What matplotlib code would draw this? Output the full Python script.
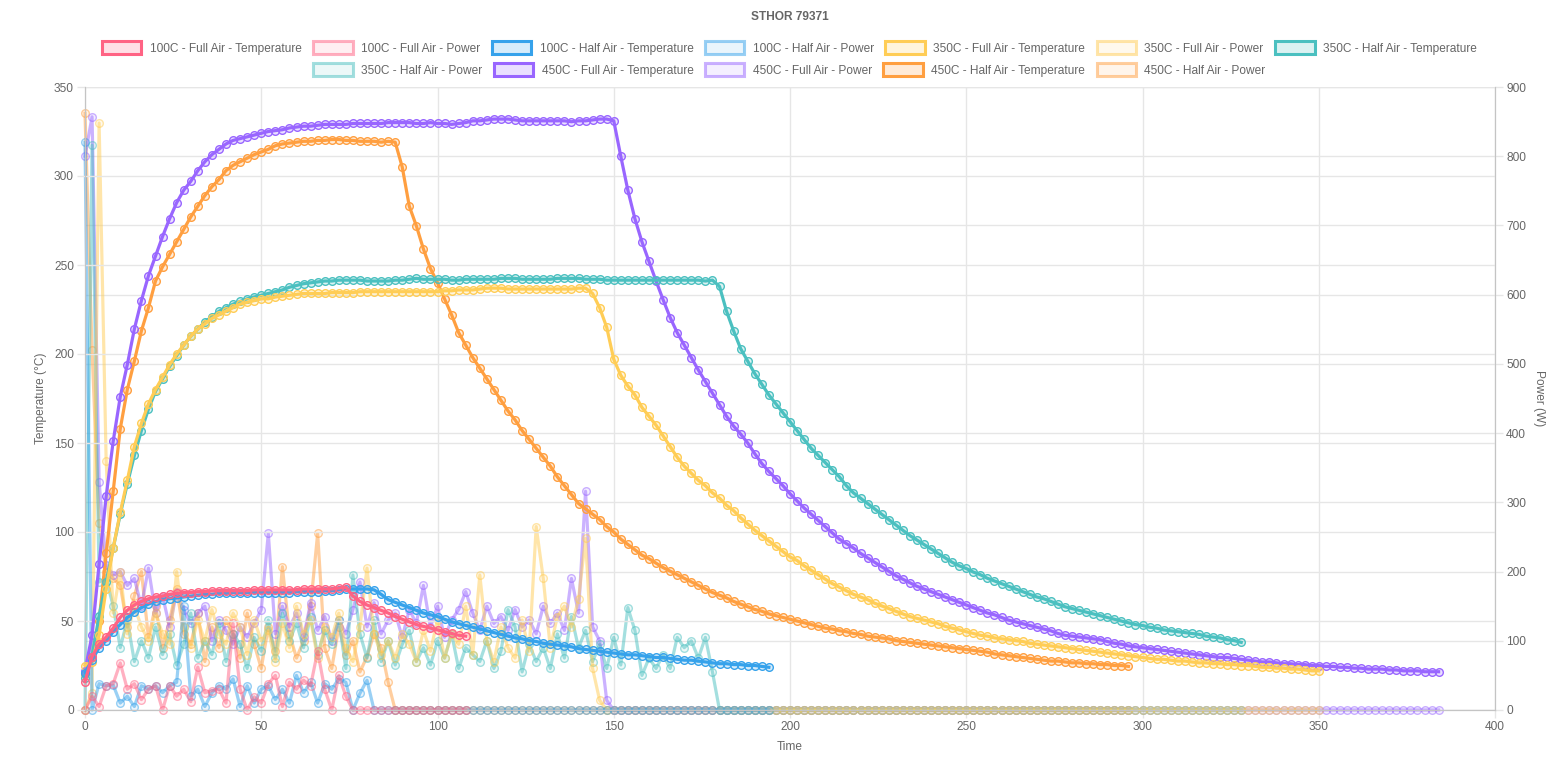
import numpy
import matplotlib
matplotlib.use('Agg')
import matplotlib.pyplot as plt
from matplotlib.patches import Rectangle
from matplotlib.colors import to_rgba

plt.rcParams['font.family'] = ['Liberation Sans', 'DejaVu Sans']

temp_100_full = [
    16, 30, 37, 41, 46, 52, 56, 59, 61, 62.5,
    63.5, 64, 65, 65.5, 66, 66, 66.5, 66.5, 67, 67,
    67, 67, 67, 67, 67.5, 67.5, 67.5, 67.5, 67.5, 67.5,
    67.5, 68, 68, 68, 68, 68, 68.5, 69, 64, 61,
    59, 57.5, 56, 54.5, 52.5, 51, 49.5, 48, 47, 46,
    45, 44, 43, 42, 41.5]
power_100_full = [
    0, 20, 5, 35, 38, 68, 30, 38, 15, 30,
    35, 0, 35, 20, 30, 12, 62, 25, 28, 30,
    10, 125, 30, 0, 19, 10, 38, 50, 5, 40,
    30, 43, 35, 85, 30, 0, 50, 20] + [0] * 17

temp_100_half = [
    21, 28, 35, 39, 44, 48, 52, 55, 57.5, 59.5,
    61, 62, 62.5, 63, 63.5, 64, 64.5, 65, 65, 65.5,
    65.5, 66, 66, 66, 66, 66, 66, 66, 66, 66,
    66.5, 66.5, 66.5, 66.5, 67, 67, 67.5, 68, 68, 68,
    68, 67.5, 65, 62, 60.5, 59, 57.5, 56, 54.5, 53.5,
    52.5, 51, 49.5, 48.5, 47.5, 46.5, 45.5, 44.5, 43.5, 42.5,
    41.5, 40.5, 40, 39, 38.5, 37.5, 37, 36.5, 36, 35.5,
    34.5, 34, 33.5, 33, 32.5, 32, 31.5, 31, 31, 30.5,
    30, 29.5, 29.5, 29, 28.5, 28, 28, 27.5, 27, 26.5,
    26, 26, 25.5, 25.5, 25, 25, 24.5, 24]
power_100_half = [
    820, 0, 38, 35, 36, 10, 20, 5, 35, 30,
    35, 25, 35, 40, 150, 20, 30, 5, 25, 35,
    30, 45, 5, 35, 10, 30, 35, 15, 30, 10,
    50, 25, 40, 10, 38, 30, 45, 40, 0, 24,
    43, 0] + [0] * 56

temp_350_full = [
    25, 27, 42, 68, 91, 111, 129, 148, 161, 172,
    180, 187, 194, 200, 205, 210, 214, 217, 220, 222,
    224, 226, 228, 229, 230, 231, 231, 232, 232.5, 233,
    233.5, 234, 234, 234, 234, 234.5, 234.5, 234.5, 234.5, 235,
    235, 235, 235, 235, 235, 235, 235, 235, 235, 235,
    235, 235.5, 235.5, 236, 236, 236, 236.5, 237, 237, 237,
    236.5, 236.5, 236.5, 236.5, 236.5, 236.5, 236.5, 236.5, 236.5, 236.5,
    237, 237, 234, 226, 215, 197, 188, 182, 177, 170,
    165, 160, 154, 148, 142, 137, 133, 129, 126, 122,
    119, 115, 112, 108, 104.5, 101, 98, 95, 92, 89,
    86, 84, 81, 78.5, 76, 73.5, 71, 69, 67, 65,
    63.5, 62, 60, 58.5, 57, 55.5, 54, 52.5, 51.5, 50.5,
    49.5, 48.5, 47, 46, 45, 44, 43, 42, 41.5, 40.5,
    40, 39.5, 39, 38.5, 37.5, 37, 36.5, 36, 35.5, 35,
    34.5, 34, 33.5, 33, 32.5, 32, 31.5, 31, 30.5, 30,
    29.5, 29, 28.5, 28.5, 28, 27.5, 27.5, 27, 26.5, 26.5,
    26, 26, 25.5, 25.5, 25, 25, 24.5, 24, 24, 23.5,
    23.5, 23, 23, 22.5, 22, 22]
power_350_full = [
    0, 25, 848, 360, 140, 200, 110, 150, 120, 100,
    140, 110, 95, 200, 120, 90, 130, 100, 145, 110,
    95, 140, 120, 80, 130, 100, 115, 70, 125, 90,
    150, 110, 130, 75, 120, 105, 140, 90, 70, 120,
    205, 110, 80, 100, 75, 110, 95, 70, 115, 85,
    130, 75, 110, 95, 150, 80, 195, 100, 70, 120,
    90, 75, 130, 85, 265, 190, 90, 135, 150, 120,
    160, 248, 60, 14, 0] + [0] * 101

temp_350_half = [
    18, 30, 53, 72, 91, 110, 127, 143, 157, 169,
    179, 186, 193, 199, 205, 210, 214, 218, 221, 224,
    226, 228, 229.5, 231, 232, 233, 234, 235, 236, 237.5,
    238.5, 239.5, 240, 240.5, 241, 241, 241.5, 241.5, 241.5, 241.5,
    241, 241, 241, 241, 241.5, 241.5, 242, 242.5, 242, 242,
    242, 242, 241.5, 241.5, 242, 242, 242, 242, 242, 242.5,
    242.5, 242.5, 242, 242, 242, 242, 242, 242.5, 242.5, 242.5,
    242.5, 242, 242, 242, 241.5, 241.5, 241.5, 241.5, 241.5, 241.5,
    241.5, 241.5, 241.5, 241.5, 241.5, 241.5, 241.5, 241.5, 241, 241.5,
    238, 224, 213, 203, 196, 189, 183, 177, 172, 167,
    162, 157, 152, 147, 143, 139, 135, 131, 126, 122,
    119, 116, 113, 110, 107, 104, 101, 98, 95.5, 93,
    90.5, 88, 85.5, 83, 81, 79.5, 77.5, 76, 74, 72.5,
    71, 69.5, 68, 66.5, 65, 63.5, 62.5, 61, 59.5, 58,
    57, 56, 55, 54, 53, 52, 51, 50, 49, 48,
    47.5, 46.5, 46, 45, 44.5, 44, 43.5, 43, 42.5, 41.5,
    41, 40.5, 39.5, 39, 38]
power_350_half = [
    0, 816, 185, 190, 150, 90, 130, 70, 100, 75,
    120, 80, 110, 65, 95, 140, 75, 100, 80, 125,
    70, 110, 95, 60, 105, 85, 130, 75, 140, 100,
    125, 90, 135, 80, 115, 95, 130, 60, 195, 110,
    75, 130, 70, 100, 65, 95, 115, 70, 90, 65,
    100, 75, 110, 60, 90, 80, 70, 100, 60, 85,
    145, 120, 55, 95, 70, 90, 60, 110, 75, 135,
    90, 115, 70, 95, 60, 105, 65, 148, 115, 50,
    75, 60, 80, 60, 105, 90, 100, 75, 105, 55] + [0] * 75

temp_450_full = [
    22, 42, 82, 120, 151, 176, 194, 214, 230, 244,
    255, 266, 276, 285, 292, 297, 303, 308, 312, 315,
    318, 320, 321, 322, 323, 324, 325, 325.5, 326, 327,
    327.5, 328, 328, 328.5, 329, 329, 329, 329, 329.5, 329.5,
    329.5, 329.5, 329.5, 330, 330, 330, 330, 329.5, 329.5, 330,
    329.5, 329.5, 329, 329.5, 330, 331, 331, 331.5, 332, 332,
    332, 331.5, 331, 331, 331, 331, 331, 331, 331, 330.5,
    331, 331, 331.5, 332, 332, 331, 311, 292, 276, 263,
    252, 241, 230.5, 220.5, 212, 205, 198, 191, 184.5, 178,
    171.5, 165, 159.5, 155, 150, 144, 138.5, 134, 130, 126,
    121.5, 117.5, 113.5, 110, 106.5, 103, 99.5, 96, 93.5, 91,
    88, 85.5, 83, 80.5, 78, 75.5, 73.5, 71.5, 69.5, 68,
    66.5, 65, 63.5, 62, 60.5, 59, 57.5, 56, 54.5, 53.5,
    52, 50.5, 49.5, 48.5, 47.5, 46.5, 45.5, 44.5, 43, 42,
    41.5, 41, 40.5, 40, 39.5, 38.5, 37.5, 37, 36, 35.5,
    35, 34.5, 34, 33.5, 33, 32.5, 32, 31.5, 31, 30.5,
    30, 29.5, 29.5, 29, 28.5, 28, 27.5, 27, 27, 26.5,
    26, 26, 25.5, 25.5, 25, 25, 24.5, 24.5, 24, 24,
    23.5, 23.5, 23, 23, 23, 22.5, 22.5, 22, 22, 22,
    21.5, 21.5, 21.5]
power_450_full = [
    800, 857, 330, 210, 195, 200, 180, 190, 150, 205,
    140, 165, 120, 170, 145, 125, 140, 150, 100, 130,
    115, 95, 120, 105, 125, 145, 255, 110, 150, 120,
    140, 105, 155, 115, 135, 100, 130, 110, 145, 185,
    120, 155, 110, 130, 140, 105, 145, 125, 180, 120,
    150, 105, 130, 145, 171, 140, 115, 150, 125, 135,
    115, 145, 120, 130, 110, 150, 125, 140, 115, 190,
    140, 316, 120, 100, 14] + [0] * 118

temp_450_half = [
    20, 30, 50, 88, 123, 158, 180, 196, 213, 226,
    241, 249, 256, 263, 270, 277, 283, 289, 294, 298,
    303, 306, 308, 310, 312, 313.5, 315, 317, 318, 318.5,
    319, 319.5, 319.5, 320, 320, 320.5, 320.5, 320, 320, 319.5,
    319.5, 319.5, 319, 319.5, 319, 305, 283, 272, 259, 248,
    240, 231, 222, 212, 205, 198, 192, 186, 180, 174,
    168, 163, 157, 152, 147, 142, 137, 131, 126, 121,
    116, 113, 110, 107, 103, 100, 96, 93, 90, 87,
    85, 82.5, 80, 78, 76, 74, 72, 70, 68, 66,
    64.5, 63, 61, 59.5, 58, 56.5, 55.5, 54, 53, 52,
    51, 50, 49, 48, 47, 46, 45.5, 44.5, 44, 43,
    42.5, 41.5, 41, 40.5, 40, 39, 38.5, 38, 37.5, 37,
    36.5, 36, 35.5, 35, 34.5, 34, 33.5, 33, 32.5, 31.5,
    31, 30.5, 30, 29.5, 29, 28.5, 28, 27.5, 27.5, 27,
    26.5, 26.5, 26, 26, 25.5, 25.5, 25, 25, 24.5]
power_450_half = [
    862, 520, 270, 200, 190, 180, 120, 165, 200, 105,
    150, 90, 130, 175, 110, 95, 140, 70, 120, 90,
    130, 110, 75, 140, 95, 60, 120, 85, 207, 110,
    75, 100, 150, 255, 90, 60, 120, 80, 100, 55,
    77, 110, 90, 40, 0] + [0] * 104

tests = ['100C - Full Air', '100C - Half Air', '350C - Full Air',
         '350C - Half Air', '450C - Full Air', '450C - Half Air']
colors = ['#FF6384', '#36A2EB', '#FFCD56', '#4BC0C0', '#9966FF', '#FF9F40']
temps = [temp_100_full, temp_100_half, temp_350_full,
         temp_350_half, temp_450_full, temp_450_half]
powers = [power_100_full, power_100_half, power_350_full,
          power_350_half, power_450_full, power_450_half]

grey = '#666666'
grid_c = '#e6e6e6'
fs = 8.6  # 12px

fig = plt.figure(figsize=(15.54, 7.58), dpi=100)
ax_p = fig.add_axes([85 / 1554, 48 / 758, 1410 / 1554, 623 / 758])
ax_t = ax_p.twinx()
# power on the bottom axes (right ticks), temperature on top (left ticks)
ax_p.yaxis.tick_right()
ax_p.yaxis.set_label_position('right')
ax_t.yaxis.tick_left()
ax_t.yaxis.set_label_position('left')

handles = []
for i, name in enumerate(tests):
    c = colors[i]
    tt = temps[i]
    pp = powers[i]
    time_t = numpy.arange(len(tt)) * 2
    time_p = numpy.arange(len(pp)) * 2
    ax_t.plot(time_t, tt, color=c, lw=2.3, marker='o', ms=5.5,
              mfc=to_rgba(c, 0.2), mec=c, mew=1.0,
              zorder=30 - 2 * i, clip_on=False)
    ax_p.plot(time_p, pp, color=to_rgba(c, 0.5), lw=2.3, marker='o', ms=5.5,
              mfc=to_rgba(c, 0.1), mec=to_rgba(c, 0.5), mew=1.0,
              zorder=30 - 2 * i - 1, clip_on=False)
    handles.append((Rectangle((0, 0), 1, 1, facecolor=to_rgba(c, 0.2),
                              edgecolor=c, lw=2.2), name + ' - Temperature'))
    handles.append((Rectangle((0, 0), 1, 1, facecolor=to_rgba(c, 0.1),
                              edgecolor=to_rgba(c, 0.5), lw=2.2), name + ' - Power'))

ax_p.set_xlim(0, 400)
ax_p.set_ylim(0, 900)
ax_t.set_ylim(0, 350)
ax_p.set_xticks(range(0, 401, 50))
ax_p.set_yticks(range(0, 901, 100))
ax_t.set_yticks(range(0, 351, 50))

ax_p.grid(True, color=grid_c, lw=1)
ax_t.grid(True, axis='y', color=grid_c, lw=1)
ax_p.set_axisbelow(True)
ax_t.set_axisbelow(True)

for ax in (ax_p, ax_t):
    ax.spines['top'].set_visible(False)
    for s in ('left', 'right', 'bottom'):
        ax.spines[s].set_color('#c4c4c4')
    ax.tick_params(length=6, width=1, color=grid_c, labelcolor=grey,
                   labelsize=fs, pad=2)

ax_p.set_xlabel('Time', fontsize=fs, color=grey, labelpad=6)
ax_t.set_ylabel('Temperature (°C)', fontsize=fs, color=grey, labelpad=5)
ax_p.set_ylabel('Power (W)', fontsize=fs, color=grey, rotation=270,
                va='bottom', labelpad=5)

fig.text(0.508, 0.978, 'STHOR 79371', ha='center', va='center',
         fontsize=fs, fontweight='bold', color=grey)

rows = [handles[:7], handles[7:]]
row_y = [0.9367, 0.9077]
for row, y in zip(rows, row_y):
    fig.legend([h for h, _ in row], [l for _, l in row], loc='center',
               bbox_to_anchor=(0.508, y), ncol=len(row), frameon=False,
               fontsize=fs, labelcolor=grey, handlelength=3.3,
               handleheight=1.25, handletextpad=0.7, columnspacing=0.97,
               borderpad=0, borderaxespad=0)

fig.savefig('out.png', dpi=100)
